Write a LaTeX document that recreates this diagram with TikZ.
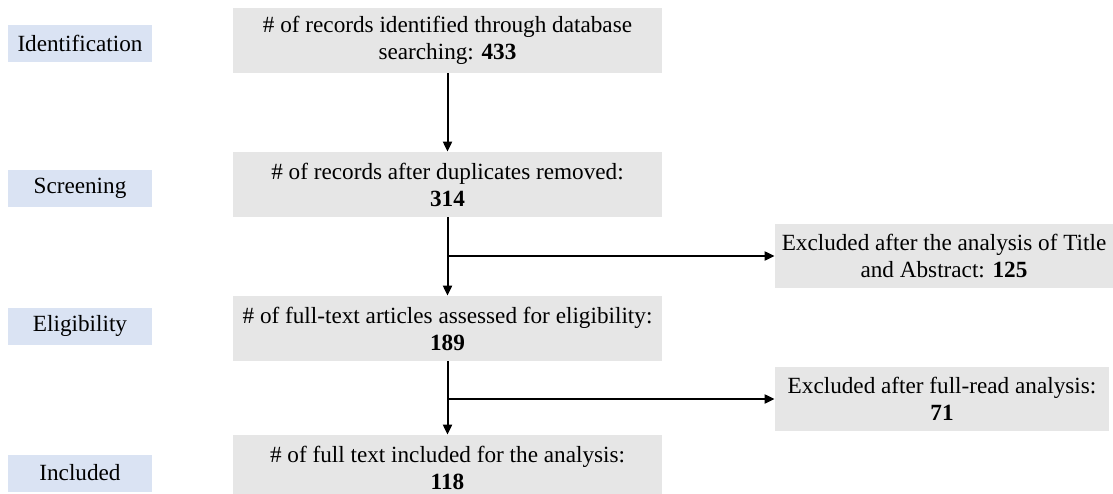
\documentclass[tikz,border=0pt]{standalone}
\usepackage{fontspec}
\setmainfont{Liberation Serif}
\usetikzlibrary{arrows.meta}
\definecolor{stagebg}{HTML}{DAE3F3}
\definecolor{boxbg}{HTML}{E6E6E6}
\tikzset{
  stage/.style = {fill = stagebg, minimum width = 72pt, minimum height = 18.5pt, inner sep = 0},
  record/.style = {fill = boxbg, minimum width = 214.5pt, minimum height = 32.5pt, inner sep = 0, align = center},
  excluded/.style = {fill = boxbg, minimum height = 32pt, inner sep = 0, align = center},
  flow/.style = {line width = 1pt, -{Triangle[length = 5pt, width = 4.5pt]}}
}
\begin{document}
\begin{tikzpicture}[x = 0.5pt, y = -0.5pt, font = \fontsize{11.6}{13.5}\selectfont]
\useasboundingbox (0,0) rectangle (1113,493); % same size as the page
\node [stage] (ident) at (80, 43.5) {Identification};
\node [stage] (screen) at (80, 188) {Screening};
\node [stage] (elig) at (80, 326) {Eligibility};
\node [stage] (incl) at (80, 473) {Included};
\node [record] (found) at (447.5, 40.5) {\# of records identified through database\\searching: \textbf{433}};
\node [record] (dedup) at (447.5, 184.5) {\# of records after duplicates removed:\\\textbf{314}};
\node [record] (full) at (447.5, 328.5) {\# of full-text articles assessed for eligibility:\\\textbf{189}};
\node [record] (final) at (447.5, 467.5) {\# of full text included for the analysis:\\\textbf{118}};
\node [excluded, minimum width = 169pt] (exTA) at (944, 256) {Excluded after the analysis of Title\\and Abstract: \textbf{125}};
\node [excluded, minimum width = 167pt] (exFR) at (942, 399) {Excluded after full-read analysis:\\\textbf{71}};
\coordinate (splitTA) at (447.5, 256);
\coordinate (splitFR) at (447.5, 399);
\draw [flow] (found) -- (dedup);
\draw [flow] (dedup) -- (full);
\draw [flow] (splitTA) -- (exTA);
\draw [flow] (full) -- (final);
\draw [flow] (splitFR) -- (exFR);
\end{tikzpicture}
\end{document}
